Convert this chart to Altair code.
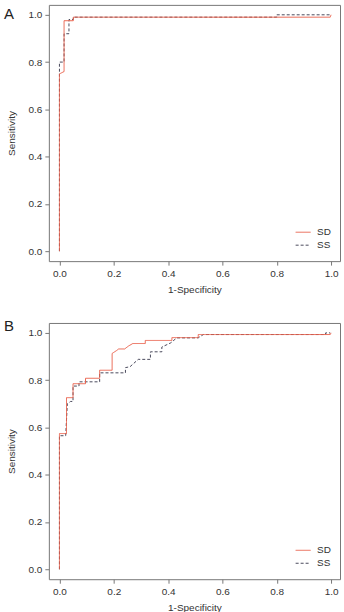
import altair as alt
import pandas as pd

# ---- data ----
PANELS = ["A", "B"]
SERIES = ["SD", "SS"]
TICKS = [0.0, 0.2, 0.4, 0.6, 0.8, 1.0]

# Panel A
A_SD_X = [0.0, 0.0, 0.017, 0.017, 0.051, 0.051, 0.997, 1.0]
A_SD_Y = [0.0, 0.75, 0.76, 0.975, 0.975, 0.99, 0.99, 1.0]
A_SS_X = [0.0, 0.0, 0.017, 0.017, 0.035, 0.035, 0.051, 0.051, 0.80, 0.80, 0.997]
A_SS_Y = [0.0, 0.80, 0.80, 0.92, 0.92, 0.98, 0.98, 0.99, 0.99, 1.0, 1.0]

# Panel B
B_SD_X = [0.0, 0.0, 0.026, 0.026, 0.05, 0.05, 0.096, 0.096, 0.148, 0.148,
          0.194, 0.194, 0.21, 0.218, 0.24, 0.255, 0.27, 0.316, 0.316, 0.414,
          0.414, 0.511, 0.511, 0.997, 1.0]
B_SD_Y = [0.0, 0.574, 0.574, 0.726, 0.726, 0.785, 0.785, 0.808, 0.808, 0.842,
          0.842, 0.913, 0.925, 0.932, 0.932, 0.945, 0.955, 0.955, 0.968, 0.968,
          0.98, 0.98, 0.993, 0.993, 1.0]
B_SS_X = [0.0, 0.0, 0.023, 0.029, 0.041, 0.05, 0.05, 0.072, 0.072, 0.148,
          0.148, 0.243, 0.243, 0.26, 0.29, 0.335, 0.335, 0.377, 0.377, 0.41,
          0.432, 0.511, 0.52, 0.53, 0.98, 0.98, 0.997]
B_SS_Y = [0.0, 0.565, 0.565, 0.70, 0.71, 0.71, 0.775, 0.775, 0.793, 0.793,
          0.831, 0.831, 0.853, 0.857, 0.888, 0.888, 0.92, 0.92, 0.94, 0.958,
          0.979, 0.979, 0.986, 0.993, 0.993, 1.0, 1.0]

COLORS = ["#E9604B", "#4A4A5C"]
DASHES = [[1, 0], [3, 2]]
FONT = "Liberation Sans"


def frame(xs, ys, name):
    return pd.DataFrame({"series": name, "fpr": xs, "tpr": ys,
                         "idx": list(range(len(xs)))})


def panel(letter, sd_x, sd_y, ss_x, ss_y, letter_y):
    df = pd.concat([frame(ss_x, ss_y, "SS"), frame(sd_x, sd_y, "SD")],
                   ignore_index=True)
    leg = alt.Legend(title=None, orient="none", legendX=247, legendY=220,
                     symbolType="stroke", symbolSize=225, symbolStrokeWidth=1,
                     labelFont=FONT, labelFontSize=10, labelColor="#333",
                     rowPadding=-2, padding=0, labelOffset=6)
    x = alt.X("fpr:Q",
              scale=alt.Scale(domain=[-0.039, 1.033], nice=False, zero=False),
              axis=alt.Axis(values=TICKS, format=".1f", title="1-Specificity",
                            titlePadding=6))
    y = alt.Y("tpr:Q",
              scale=alt.Scale(domain=[-0.042, 1.042], nice=False, zero=False),
              axis=alt.Axis(values=TICKS, format=".1f", title="Sensitivity",
                            titlePadding=12))
    color = alt.Color("series:N", scale=alt.Scale(domain=SERIES, range=COLORS),
                      legend=leg)
    dash = alt.StrokeDash("series:N",
                          scale=alt.Scale(domain=SERIES, range=DASHES),
                          legend=leg)
    base = alt.Chart(df).mark_line(strokeWidth=1, interpolate="linear").encode(
        x=x, y=y, color=color, strokeDash=dash, order="idx:Q")
    ss = base.transform_filter(alt.datum.series == "SS")
    sd = base.transform_filter(alt.datum.series == "SD")
    lab = alt.Chart(pd.DataFrame({"t": [letter]})).mark_text(
        align="left", baseline="middle", font=FONT, fontSize=15,
        color="#222").encode(text="t:N", x=alt.value(-45), y=alt.value(letter_y))
    return alt.layer(ss, sd, lab).properties(width=292, height=257)


pA = panel(PANELS[0], A_SD_X, A_SD_Y, A_SS_X, A_SS_Y, 9)
pB = panel(PANELS[1], B_SD_X, B_SD_Y, B_SS_X, B_SS_Y, 3)

chart = alt.vconcat(pA, pB, spacing=62, bounds="flush").resolve_scale(
    color="independent", strokeDash="independent"
).resolve_legend(color="independent", strokeDash="independent").properties(
    padding={"left": 3, "top": 3, "right": 3, "bottom": 3}
).configure_view(stroke="#777", strokeWidth=1).configure_axis(
    domain=False, grid=False, tickColor="#777", tickSize=4, labelPadding=3,
    labelColor="#333", labelFont=FONT, labelFontSize=10,
    titleFont=FONT, titleFontSize=10, titleFontWeight="normal",
    titleColor="#333"
)

chart.save("out.html", embed_options={"renderer": "svg", "actions": False})
